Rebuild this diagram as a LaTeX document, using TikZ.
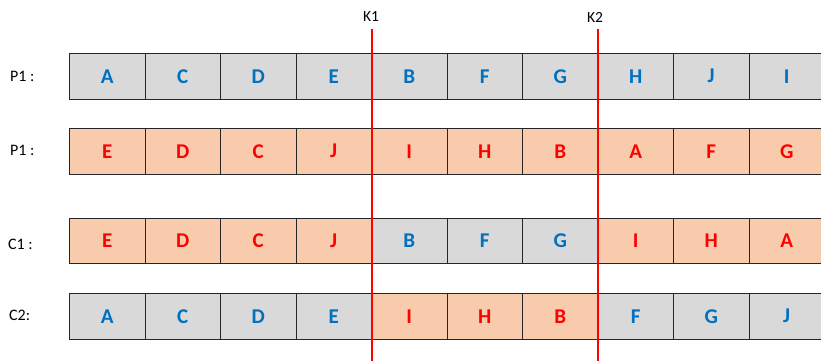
\documentclass[tikz,border=0pt]{standalone}
\usepackage{fontspec}
\setmainfont{Carlito}
\definecolor{genegray}{HTML}{D9D9D9}
\definecolor{genepeach}{HTML}{F8CBAD}
\definecolor{geneblue}{HTML}{0070C0}
\definecolor{genered}{HTML}{FF0000}
\tikzset{
  cell/.style={draw=black!85, line width=0.9pt, minimum width=75.5pt, minimum height=45.5pt,
    inner sep=0pt, anchor=north west, font=\fontsize{21}{23}\selectfont\bfseries},
  graycell/.style={cell, fill=genegray, text=geneblue},
  peachcell/.style={cell, fill=genepeach, text=genered},
  rowlabel/.style={font=\fontsize{16}{18}\selectfont, anchor=west, inner sep=0pt},
  cutlabel/.style={font=\fontsize{15.5}{17}\selectfont, inner sep=0pt},
  cutline/.style={draw=genered, line width=2pt}
}
\begin{document}
\begin{tikzpicture}[x=1pt, y=-1pt]
\useasboundingbox (0,0) rectangle (821,361);

% Parent 1
\foreach \t [count=\i from 0] in {A,C,D,E,B,F,G,H,J,I}
  \node[graycell] (a\i) at (69+75.5*\i,53) {\t};
% Parent 2
\foreach \t [count=\i from 0] in {E,D,C,J,I,H,B,A,F,G}
  \node[peachcell] (b\i) at (69+75.5*\i,128) {\t};
% Child 1
\foreach \t/\s [count=\i from 0] in {E/peachcell,D/peachcell,C/peachcell,J/peachcell,B/graycell,F/graycell,G/graycell,I/peachcell,H/peachcell,A/peachcell}
  \node[\s] (c\i) at (69+75.5*\i,217.5) {\t};
% Child 2
\foreach \t/\s [count=\i from 0] in {A/graycell,C/graycell,D/graycell,E/graycell,I/peachcell,H/peachcell,B/peachcell,F/graycell,G/graycell,J/graycell}
  \node[\s] (d\i) at (69+75.5*\i,293) {\t};

% Row labels
\node[rowlabel] (la) at (10,76) {P1 :};
\node[rowlabel] (lb) at (10,150) {P1 :};
\node[rowlabel] (lc) at (8,244) {C1 :};
\node[rowlabel] (ld) at (9,315) {C2:};

% Cut points
\node[cutlabel] (k1) at (371,17) {K1};
\node[cutlabel] (k2) at (595,17) {K2};
\coordinate (k1top) at (371.5,29);
\coordinate (k1bot) at (371.5,361);
\coordinate (k2top) at (598,29);
\coordinate (k2bot) at (598,361);
\draw[cutline] (k1top) -- (k1bot);
\draw[cutline] (k2top) -- (k2bot);
\end{tikzpicture}
\end{document}
